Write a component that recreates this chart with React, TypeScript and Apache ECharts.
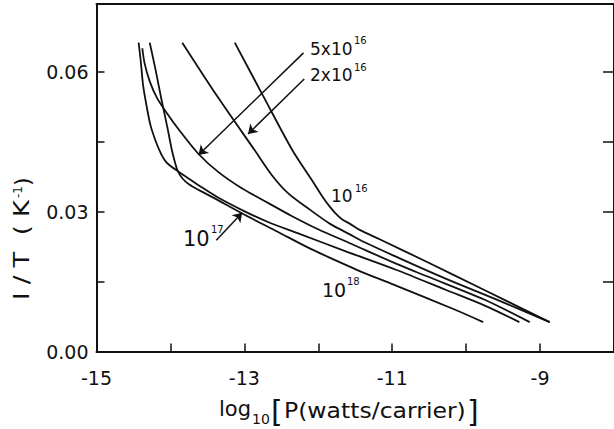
import React, { useEffect, useRef } from "react";
import * as echarts from "echarts";

const FONT = '"DejaVu Sans", Verdana, sans-serif';
const INK = "#111111";

const xTickValues = [-15, -14, -13, -12, -11, -10, -9];
const xLabelValues = [-15, -13, -11, -9];
const yTickValues = [0, 0.015, 0.03, 0.045, 0.06];
const yLabelValues = [0, 0.03, 0.06];

// [log10 P, 1/T]
const curve1e16 = [[-13.13, 0.0663], [-12.75, 0.055], [-12.35, 0.0432], [-12.07, 0.0364], [-11.95, 0.0334], [-11.85, 0.0312], [-11.77, 0.0297], [-11.68, 0.0284], [-11.57, 0.0274], [-11.44, 0.0261], [-11.17, 0.0241], [-10.5, 0.019], [-9.83, 0.0138], [-8.87, 0.0063]];
const curve2e16 = [[-13.84, 0.0663], [-13.35, 0.0544], [-12.86, 0.0432], [-12.63, 0.0379], [-12.41, 0.034], [-12.11, 0.0304], [-11.84, 0.0274], [-11.58, 0.0252], [-11.38, 0.0235], [-10.94, 0.0203], [-10.27, 0.0156], [-9.61, 0.0113], [-8.87, 0.0063]];
const curve5e16 = [[-14.38, 0.0651], [-14.35, 0.0619], [-14.28, 0.058], [-14.18, 0.0544], [-14.04, 0.051], [-13.88, 0.0475], [-13.62, 0.0424], [-13.35, 0.0385], [-13.04, 0.0351], [-12.68, 0.0319], [-12.36, 0.0291], [-12.01, 0.0263], [-11.58, 0.0233], [-10.94, 0.0188], [-10.54, 0.0162], [-9.75, 0.0111], [-9.14, 0.0063]];
const curve1e17 = [[-14.43, 0.0663], [-14.4, 0.0621], [-14.37, 0.0572], [-14.32, 0.0525], [-14.27, 0.0486], [-14.2, 0.0452], [-14.12, 0.0422], [-14.06, 0.0407], [-13.99, 0.0397], [-13.88, 0.0385], [-13.75, 0.0371], [-13.62, 0.0357], [-13.35, 0.033], [-13.01, 0.0302], [-12.68, 0.0278], [-12.28, 0.0254], [-11.61, 0.0214], [-10.94, 0.0175], [-10.27, 0.0132], [-9.74, 0.0098], [-9.28, 0.0063]];
const curve1e18 = [[-14.28, 0.0663], [-14.2, 0.0604], [-14.12, 0.054], [-14.04, 0.048], [-13.98, 0.0432], [-13.94, 0.0407], [-13.9, 0.0387], [-13.84, 0.0372], [-13.75, 0.0359], [-13.62, 0.0347], [-13.44, 0.0332], [-12.99, 0.0293], [-12.55, 0.0257], [-12.15, 0.0224], [-11.84, 0.0201], [-11.34, 0.0166], [-10.94, 0.0141], [-10.14, 0.0089], [-9.77, 0.0063]];

const curveNames = ["10^16", "2x10^16", "5x10^16", "10^17", "10^18"];
const curves = [curve1e16, curve2e16, curve5e16, curve1e17, curve1e18];

// leader arrows [from, to] in data units
const arrow5e16 = [[-12.2, 0.0641], [-13.62, 0.0422]];
const arrow2e16 = [[-12.19, 0.0585], [-12.95, 0.0467]];
const arrow1e17 = [[-13.38, 0.0239], [-13.03, 0.0298]];
const arrowsBySeries: Record<string, number[][]> = {
  "5x10^16": arrow5e16,
  "2x10^16": arrow2e16,
  "10^17": arrow1e17,
};

function txt(text: string, x: number, y: number, size: number, extra: any = {}) {
  return {
    type: "text",
    x,
    y,
    silent: true,
    ...extra,
    style: {
      text,
      fill: INK,
      fontSize: size,
      fontFamily: FONT,
      align: "left",
      verticalAlign: "middle",
    },
  };
}

export default function App() {
  const ref = useRef<HTMLDivElement>(null);
  useEffect(() => {
    if (!ref.current) return;
    const chart = echarts.init(ref.current, undefined, { renderer: "svg" });
    const axisLine = { show: true, onZero: false, lineStyle: { color: INK, width: 2 } };
    const tickStyle = { color: INK, width: 1.5 };
    const option: any = {
      animation: false,
      backgroundColor: "#ffffff",
      grid: { left: 96.5, top: 4, width: 523.6, height: 347.5 },
      xAxis: [
        {
          type: "value",
          min: -15,
          max: -8,
          position: "bottom",
          axisLine,
          axisTick: { show: true, inside: true, length: 8, customValues: xTickValues, lineStyle: tickStyle },
          axisLabel: {
            customValues: xLabelValues,
            color: INK,
            fontSize: 19,
            fontFamily: FONT,
            margin: 17,
            formatter: (v: number) => String(v),
          },
          splitLine: { show: false },
        },
        {
          type: "value",
          min: -15,
          max: -8,
          position: "top",
          axisLine,
          axisTick: { show: false },
          axisLabel: { show: false },
          splitLine: { show: false },
        },
      ],
      yAxis: [
        {
          type: "value",
          min: 0,
          max: 0.0746,
          position: "left",
          axisLine,
          axisTick: { show: true, inside: true, length: 8, customValues: yTickValues, lineStyle: tickStyle },
          axisLabel: {
            customValues: yLabelValues,
            color: INK,
            fontSize: 19,
            fontFamily: FONT,
            margin: 8,
            formatter: (v: number) => v.toFixed(2),
          },
          splitLine: { show: false },
        },
        {
          type: "value",
          min: 0,
          max: 0.0746,
          position: "right",
          axisLine,
          axisTick: { show: true, inside: true, length: 11, customValues: yTickValues, lineStyle: tickStyle },
          axisLabel: { show: false },
          splitLine: { show: false },
        },
      ],
      series: curves.map((data, i) => {
        const name = curveNames[i];
        const arrow = arrowsBySeries[name];
        return {
          name,
          type: "line",
          data,
          xAxisIndex: 0,
          yAxisIndex: 0,
          symbol: "none",
          smooth: 0.3,
          lineStyle: { color: INK, width: 1.8 },
          silent: true,
          markLine: arrow
            ? {
                silent: true,
                animation: false,
                label: { show: false },
                lineStyle: { color: INK, width: 1.5, type: "solid" },
                data: [
                  [
                    { coord: arrow[0], symbol: "none" },
                    { coord: arrow[1], symbol: "arrow", symbolSize: 9 },
                  ],
                ],
              }
            : undefined,
        };
      }),
      graphic: [
        // y-axis title
        {
          type: "group",
          x: 22,
          y: 300,
          rotation: Math.PI / 2,
          silent: true,
          children: [
            txt("I / T  ( K", 0, 0, 22, { scaleX: 1.17 }),
            txt("-1", 102, -4, 12),
            txt(")", 114, 0, 22),
          ],
        },
        // x-axis title
        txt("log", 219, 409, 21),
        txt("10", 252, 418.5, 14),
        txt("[", 271, 411, 30),
        txt("P(watts/carrier)", 284, 410, 22, { scaleX: 1.07 }),
        txt("]", 467, 411, 30),
        // curve labels
        txt("5x10", 310, 48.5, 17),
        txt("16", 354, 40, 10),
        txt("2x10", 310, 75, 17),
        txt("16", 354, 67, 10),
        txt("10", 331, 196, 17),
        txt("16", 355, 188, 10),
        txt("10", 322, 290, 19),
        txt("18", 347, 281, 10),
        txt("10", 183, 239, 21),
        txt("17", 211, 229, 10),
      ],
    };
    chart.setOption(option);
    return () => chart.dispose();
  }, []);
  return (
    <div
      ref={ref}
      style={{ position: "absolute", left: 0, top: 0, width: 614, height: 429, background: "#fff" }}
    />
  );
}
